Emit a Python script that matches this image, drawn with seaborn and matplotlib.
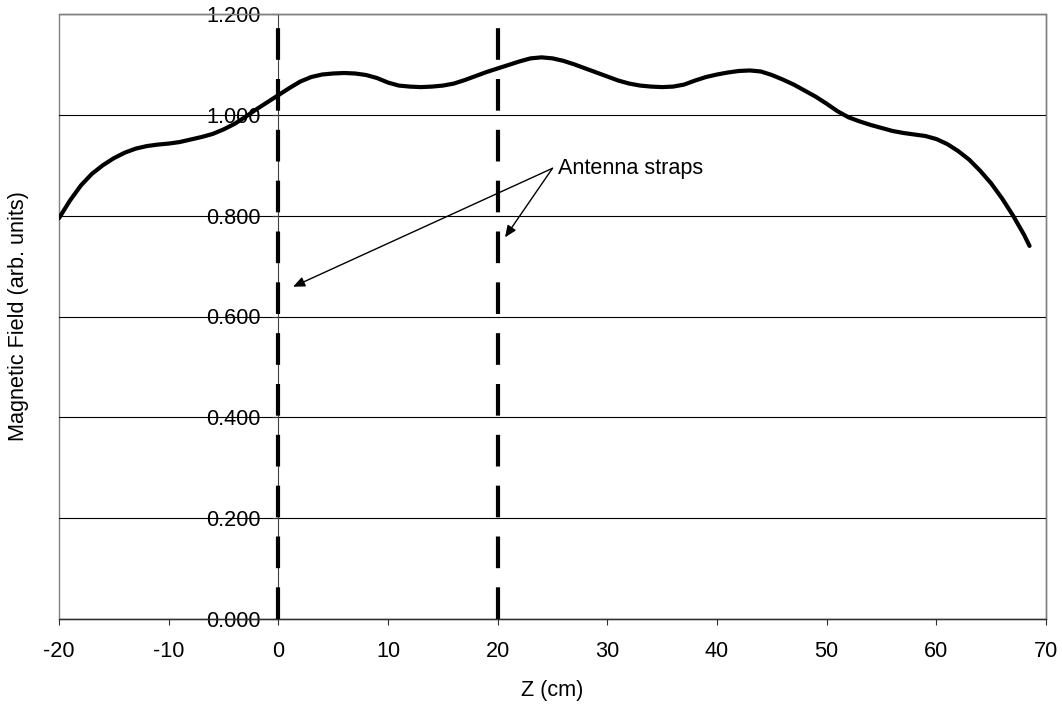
import matplotlib
matplotlib.use("Agg")
import matplotlib.pyplot as plt
import seaborn as sns
import numpy as np
import pandas as pd
from matplotlib.patches import Rectangle

# ---- data ----
z_cm = [-20, -19, -18, -17, -16, -15, -14, -13, -12, -11, -10, -9, -8, -7, -6, -5,
        -4, -3, -2, -1, 0, 1, 2, 3, 4, 5, 6, 7, 8, 9, 10, 11, 12, 13, 14,
        15, 16, 17, 18, 19, 20, 21, 22, 23, 24, 25, 26, 27, 28, 29, 30, 31, 32,
        33, 34, 35, 36, 37, 38, 39, 40, 41, 42, 43, 44, 45, 46, 47, 48, 49, 50,
        51, 52, 53, 54, 55, 56, 57, 58, 59, 60, 61, 62, 63, 64, 65, 66, 67, 68, 68.5]
field = [0.795, 0.830, 0.860, 0.883, 0.900, 0.914, 0.925, 0.933, 0.938, 0.941,
         0.943, 0.946, 0.951, 0.956, 0.962, 0.971, 0.982, 0.996, 1.011, 1.025,
         1.039, 1.053, 1.066, 1.075, 1.080, 1.082, 1.083, 1.082, 1.079, 1.073,
         1.064, 1.058, 1.056, 1.055, 1.056, 1.058, 1.062, 1.069, 1.077, 1.085,
         1.092, 1.099, 1.106, 1.112, 1.114, 1.112, 1.107, 1.100, 1.092, 1.084,
         1.076, 1.068, 1.062, 1.058, 1.056, 1.055, 1.056, 1.060, 1.068, 1.075,
         1.080, 1.084, 1.087, 1.088, 1.086, 1.079, 1.070, 1.060, 1.048, 1.036,
         1.022, 1.007, 0.995, 0.987, 0.980, 0.974, 0.968, 0.964, 0.961, 0.958,
         0.952, 0.942, 0.928, 0.911, 0.889, 0.864, 0.834, 0.800, 0.762, 0.740]
strap_positions = [0, 20]
x_ticks = [-20, -10, 0, 10, 20, 30, 40, 50, 60, 70]
y_ticks = [0.0, 0.2, 0.4, 0.6, 0.8, 1.0, 1.2]
annot_text = "Antenna straps"
annot_text_pos = (25.5, 0.894)
arrow_tail = (25.0, 0.894)
arrow_heads = [(1.34, 0.659), (20.67, 0.757)]

sns.set_style("white")
plt.rcParams['font.family'] = ['Liberation Sans', 'DejaVu Sans']
for k in ['text.color', 'axes.labelcolor', 'xtick.color', 'ytick.color']:
    plt.rcParams[k] = 'black'
FS = 15.6

fig = plt.figure(figsize=(10.62, 7.07), dpi=100)
ax = fig.add_axes([59/1062, 1-619/707, (1046-59)/1062, (619-14)/707])

df = pd.DataFrame({"z": z_cm, "B": field})
sns.lineplot(data=df, x="z", y="B", color="black", lw=3.0, ax=ax, zorder=4,
             solid_joinstyle='round', solid_capstyle='round')

for s in strap_positions:
    ax.axvline(s, ymin=0, ymax=1, color="black", lw=3.0,
               linestyle=(0, (7.6, 4.6)), zorder=3)

ax.spines['left'].set_position(('data', 0))

ax.set_xlim(-20, 70)
ax.set_ylim(0, 1.2)
ax.set_xticks(x_ticks)
ax.set_yticks(y_ticks)
ax.set_xticklabels([str(t) for t in x_ticks])
ax.set_yticklabels([f"{t:.3f}" for t in y_ticks])

ax.yaxis.grid(True, color="black", lw=0.8)
ax.xaxis.grid(False)
ax.set_axisbelow(True)

ax.spines['left'].set_color('#404040')
ax.spines['left'].set_linewidth(0.8)
ax.spines['bottom'].set_color('#303030')
ax.spines['bottom'].set_linewidth(1.0)
for s in ['top', 'right']:
    ax.spines[s].set_color('#808080')
    ax.spines[s].set_linewidth(1.0)
ax.add_patch(Rectangle((0, 0), 1, 1, transform=ax.transAxes, fill=False,
                       ec='#808080', lw=1.0, clip_on=False, zorder=0.5))

ax.tick_params(axis='x', direction='out', length=4.5, width=0.8, color='#303030',
               pad=11, bottom=True, labelcolor='black', labelsize=FS)
ax.tick_params(axis='y', direction='out', length=4.5, width=0.8, color='#303030',
               pad=8, left=True, labelcolor='black', labelsize=FS)

ax.set_xlabel("Z (cm)", fontsize=FS, labelpad=13)
ax.set_ylabel("Magnetic Field (arb. units)", fontsize=FS)
ax.yaxis.label.set_verticalalignment('center')
ax.yaxis.set_label_coords(-0.0415, 0.5)

ax.text(annot_text_pos[0], annot_text_pos[1], annot_text, fontsize=FS,
        ha='left', va='center', zorder=6)
for head in arrow_heads:
    ax.annotate("", xy=head, xytext=arrow_tail,
                arrowprops=dict(arrowstyle='-|>,head_length=0.7,head_width=0.3',
                                color='black', lw=1.0, shrinkA=0, shrinkB=0),
                zorder=6)

fig.savefig("out.png", dpi=100)
